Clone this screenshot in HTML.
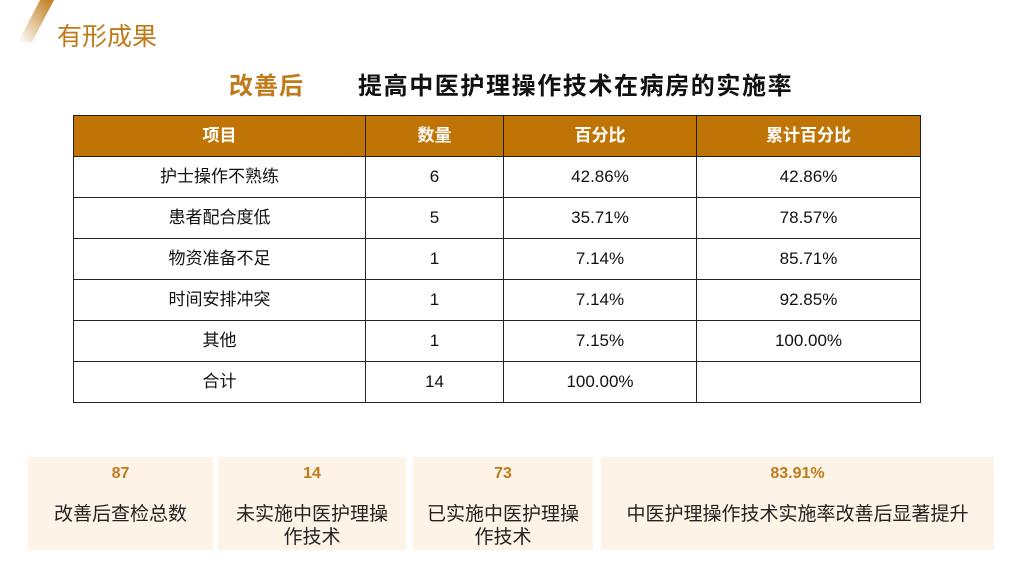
<!DOCTYPE html>
<html><head><meta charset="utf-8"><style>
body{margin:0;width:1024px;height:576px;background:#fff;position:relative;overflow:hidden;font-family:"Liberation Sans","Noto Sans CJK SC",sans-serif;}
.abs{position:absolute}
table{position:absolute;left:73px;top:115px;border-collapse:collapse;width:848px;font-size:17px;color:#111}
td,th{border:1px solid #222;text-align:center;height:40px;padding:0;line-height:40px;vertical-align:middle}
th{background:#c07406;color:#fff;font-weight:bold;font-size:17px}
.box{position:absolute;top:457px;height:93px;background:#fdf3e6;text-align:center}
.box .n{color:#c07a1a;font-weight:bold;font-size:16px;margin-top:6px;height:22px;line-height:22px}
.box .t{font-size:19px;color:#222;line-height:23px;margin-top:18px}
</style></head><body>
<svg class="abs" style="left:0;top:0" width="80" height="50"><defs><linearGradient id="g" x1="1" y1="0" x2="0" y2="1"><stop offset="0" stop-color="#c07a1a"/><stop offset="1" stop-color="#fff"/></linearGradient></defs><polygon points="40,0 54,0 32,42 18,42" fill="url(#g)"/></svg>
<div class="abs" style="left:57px;top:22px;font-size:25px;line-height:30px;color:#c07a1a">有形成果</div>
<div class="abs" style="left:229px;top:72px;font-size:24px;line-height:30px;letter-spacing:1px;color:#c07a1a;font-weight:bold">改善后</div>
<div class="abs" style="left:358px;top:72px;font-size:24px;line-height:30px;letter-spacing:1.6px;color:#111;font-weight:bold">提高中医护理操作技术在病房的实施率</div>
<table>
<tr><th style="width:291px">项目</th><th style="width:137px">数量</th><th style="width:192px">百分比</th><th>累计百分比</th></tr>
<tr><td>护士操作不熟练</td><td>6</td><td>42.86%</td><td>42.86%</td></tr>
<tr><td>患者配合度低</td><td>5</td><td>35.71%</td><td>78.57%</td></tr>
<tr><td>物资准备不足</td><td>1</td><td>7.14%</td><td>85.71%</td></tr>
<tr><td>时间安排冲突</td><td>1</td><td>7.14%</td><td>92.85%</td></tr>
<tr><td>其他</td><td>1</td><td>7.15%</td><td>100.00%</td></tr>
<tr><td>合计</td><td>14</td><td>100.00%</td><td></td></tr>
</table>
<div class="box" style="left:28px;width:185px"><div class="n">87</div><div class="t">改善后查检总数</div></div>
<div class="box" style="left:218px;width:188px"><div class="n">14</div><div class="t">未实施中医护理操<br>作技术</div></div>
<div class="box" style="left:413px;width:180px"><div class="n">73</div><div class="t">已实施中医护理操<br>作技术</div></div>
<div class="box" style="left:601px;width:393px"><div class="n">83.91%</div><div class="t">中医护理操作技术实施率改善后显著提升</div></div>
</body></html>
